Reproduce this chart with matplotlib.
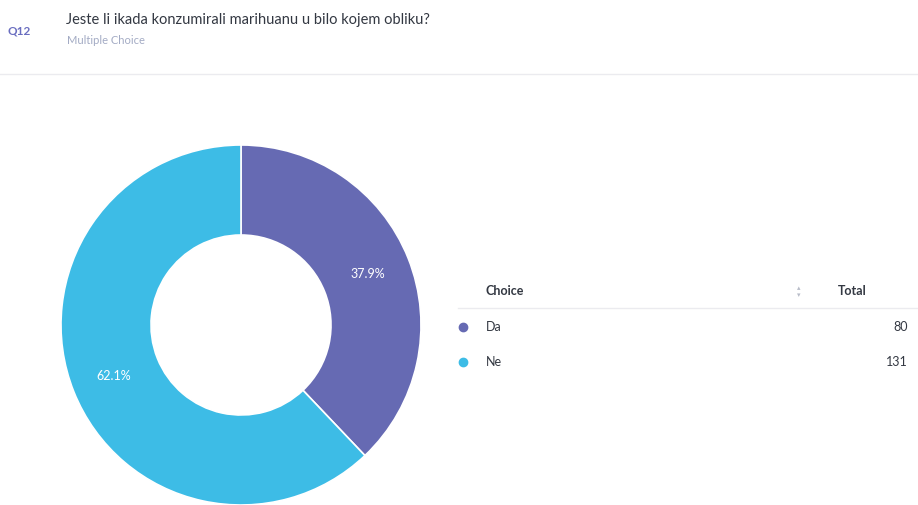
import matplotlib
matplotlib.use("Agg")
import matplotlib.pyplot as plt
from matplotlib.lines import Line2D

plt.rcParams['font.family'] = ['Lato', 'DejaVu Sans']

question_id = "Q12"
title = "Jeste li ikada konzumirali marihuanu u bilo kojem obliku?"
subtitle = "Multiple Choice"
choices = ["Da", "Ne"]
totals = [80, 131]
colors = ["#666ab3", "#3dbce6"]

W, H = 918, 505
fig = plt.figure(figsize=(W / 100, H / 100), dpi=100)
fig.patch.set_facecolor("white")

def px(x, y):
    return x / W, 1 - y / H

# Header
fig.text(*px(8, 31), question_id, color="#6a6ec0", fontsize=8.5, fontweight="bold", va="center", ha="left")
fig.text(*px(66, 20), title, color="#333842", fontsize=10.5, va="center", ha="left")
fig.text(*px(67, 40), subtitle, color="#a3abc4", fontsize=8, va="center", ha="left")
fig.add_artist(Line2D([0, 1], [1 - 73.5 / H] * 2, color="#ebebef", lw=1, transform=fig.transFigure))

# Donut
ax = fig.add_axes([61 / W, 1 - 505 / H, 360 / W, 360 / H])
wedges, texts, autotexts = ax.pie(
    totals, colors=colors, startangle=90, counterclock=False,
    autopct="%1.1f%%", pctdistance=0.76,
    wedgeprops=dict(width=0.5, edgecolor="white", linewidth=1.2),
    textprops=dict(color="white", fontsize=9),
)
ax.set_xlim(-1, 1)
ax.set_ylim(-1, 1)
ax.set_aspect("equal")
ax.axis("off")

# Table
fig.text(*px(486, 291), "Choice", color="#333842", fontsize=9, fontweight="bold", va="center", ha="left")
fig.text(*px(799, 288), "\u25b4", color="#b8bcc8", fontsize=5, va="center", ha="center")
fig.text(*px(799, 295), "\u25be", color="#b8bcc8", fontsize=5, va="center", ha="center")
fig.text(*px(838, 291), "Total", color="#333842", fontsize=9, fontweight="bold", va="center", ha="left")
fig.add_artist(Line2D([458 / W, 1], [1 - 308 / H] * 2, color="#ebebef", lw=1, transform=fig.transFigure))

row_y = [327, 362]
for name, total, col, y in zip(choices, totals, colors, row_y):
    fig.add_artist(Line2D([463 / W], [1 - y / H], marker="o", markersize=6, color=col,
                          linestyle="none", transform=fig.transFigure))
    fig.text(*px(486, y), name, color="#333842", fontsize=9, va="center", ha="left")
    fig.text(*px(908, y), str(total), color="#333842", fontsize=9, va="center", ha="right")

fig.savefig("out.png", dpi=100, facecolor="white")
